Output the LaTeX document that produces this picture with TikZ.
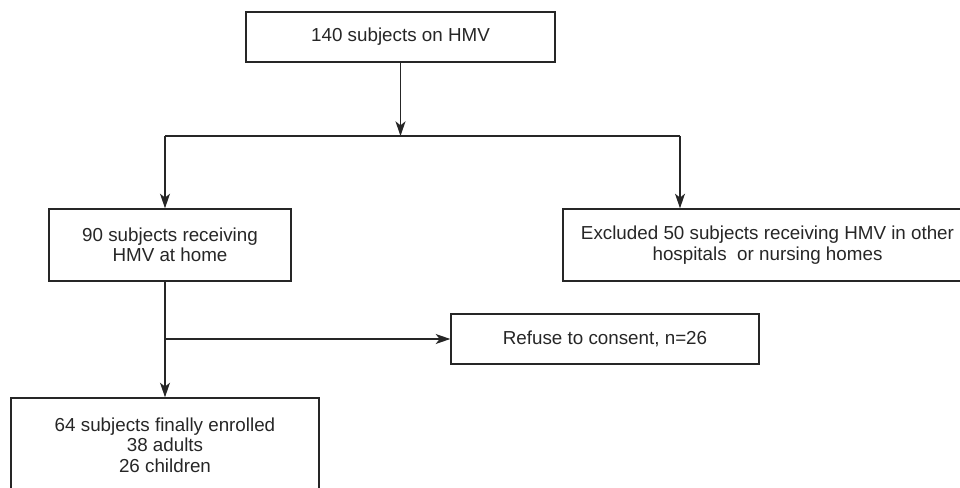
\documentclass[tikz,border=0pt]{standalone}
\usepackage{fontspec}
\setmainfont{Liberation Sans}
\usetikzlibrary{arrows.meta}
\definecolor{ink}{HTML}{262626}
\begin{document}
\begin{tikzpicture}[x=0.75pt,y=-0.75pt,
  box/.style={draw=ink,line width=1pt,text=ink,align=center,inner sep=0pt,
    font=\fontsize{14.1}{15.4}\selectfont},
  conn/.style={draw=ink,line width=1pt},
  arr/.style={conn,-{Stealth[length=11pt,width=7.5pt,inset=3pt]}}]
\useasboundingbox (0,0) rectangle (960,488);
\clip (0,0) rectangle (960,488);
\node[box,minimum width=231.75pt,minimum height=37.5pt] (top) at (400.5,37) {140 subjects on HMV};
\node[box,minimum width=181.5pt,minimum height=54pt] (home) at (170,245) {90 subjects receiving\\HMV at home};
\node[box,minimum width=306.75pt,minimum height=54pt] (excl) at (767.5,245) {Excluded 50 subjects receiving HMV in other\\hospitals\ \ or nursing homes};
\node[box,minimum width=231pt,minimum height=37.5pt] (refuse) at (605,339) {Refuse to consent, n=26};
\node[box,minimum width=231pt,minimum height=70.5pt] (final) at (165,445) {64 subjects finally enrolled\\38 adults\\26 children};
\coordinate (bM) at (400.5,136);
\coordinate (bL) at (165,136);
\coordinate (bR) at (680,136);
\coordinate (j) at (165,339);
\draw[arr] (top.south) -- (bM);
\draw[conn] (bL) -- (bR);
\draw[arr] (bL) -- (bL |- home.north);
\draw[arr] (bR) -- (bR |- excl.north);
\draw[arr] (home.south -| bL) -- (final.north -| bL);
\draw[arr] (j) -- (refuse.west);
\end{tikzpicture}
\end{document}
